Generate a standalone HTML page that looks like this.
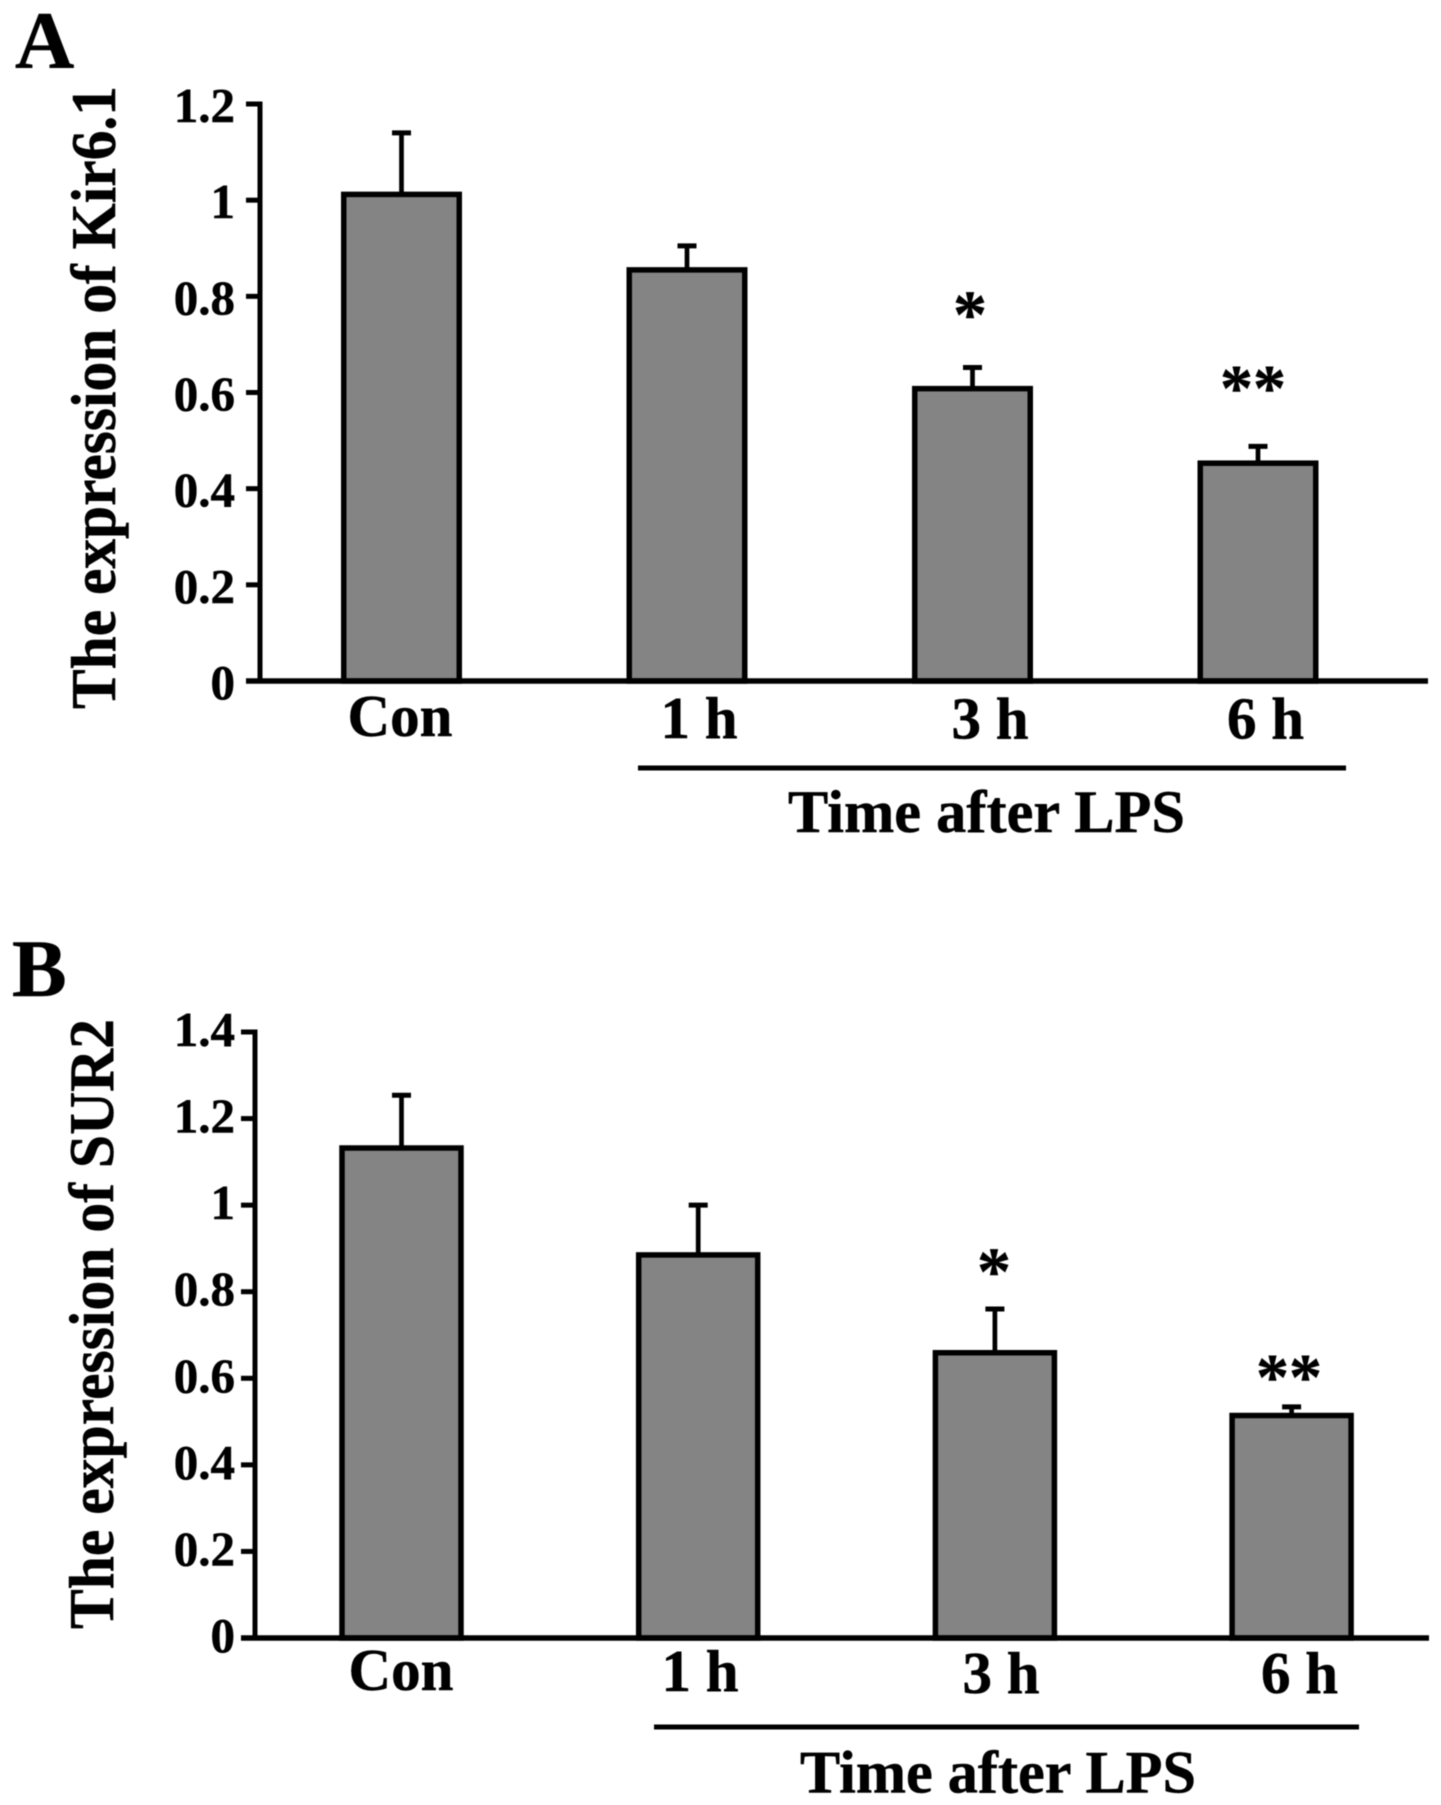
<!DOCTYPE html>
<html lang="en">
<head>
<meta charset="utf-8">
<title>Expression of Kir6.1 and SUR2 after LPS</title>
<style>
  html, body { margin: 0; padding: 0; background: #fff; }
  svg { display: block; filter: blur(0.4px); }
  text { font-family: "Liberation Serif", "DejaVu Serif", serif; font-weight: bold; fill: #000; stroke: #000; stroke-width: 0.5px; }
</style>
</head>
<body>
<svg id="figure" xmlns="http://www.w3.org/2000/svg" width="1441" height="1805" viewBox="0 0 1441 1805">
  <rect x="0" y="0" width="1441" height="1805" fill="#fff"/>

  <g id="panel-a"></g>
  <g id="panel-b"></g>

  <text x="15" y="68" font-size="82">A</text>
  <text x="12" y="996" font-size="82">B</text>

  <text transform="translate(115 709) rotate(-90)" font-size="63" textLength="623" lengthAdjust="spacingAndGlyphs">The expression of Kir6.1</text>
  <text transform="translate(113 1629) rotate(-90)" font-size="63" textLength="610" lengthAdjust="spacingAndGlyphs">The expression of SUR2</text>

  <text x="400" y="736" font-size="59" text-anchor="middle">Con</text>
  <text x="699" y="738" font-size="59" text-anchor="middle">1 h</text>
  <text x="990" y="738.5" font-size="59" text-anchor="middle">3 h</text>
  <text x="1265.5" y="738.5" font-size="59" text-anchor="middle">6 h</text>

  <text x="401" y="1690" font-size="59" text-anchor="middle">Con</text>
  <text x="700" y="1691" font-size="59" text-anchor="middle">1 h</text>
  <text x="1001" y="1693" font-size="59" text-anchor="middle">3 h</text>
  <text x="1299.5" y="1693" font-size="59" text-anchor="middle">6 h</text>

  <rect x="638" y="765.5" width="708" height="5" fill="#000"/>
  <rect x="654" y="1724.5" width="705" height="5" fill="#000"/>

  <text x="788" y="832" font-size="60" textLength="397" lengthAdjust="spacingAndGlyphs">Time after LPS</text>
  <text x="800" y="1792.5" font-size="60" textLength="396" lengthAdjust="spacingAndGlyphs">Time after LPS</text>

  <text x="970" y="337" font-size="68" text-anchor="middle">*</text>
  <text x="1253" y="410" font-size="66" text-anchor="middle">**</text>
  <text x="994" y="1294" font-size="68" text-anchor="middle">*</text>
  <text x="1289" y="1399" font-size="66" text-anchor="middle">**</text>
</svg>

<script>
const categories = ['Con', '1 h', '3 h', '6 h'];

const kirMeans = [1.012, 0.855, 0.608, 0.453];
const kirErrors = [0.128, 0.05, 0.044, 0.035];
const kirTicks = [0, 0.2, 0.4, 0.6, 0.8, 1, 1.2];
const kirTickLabels = ['0', '0.2', '0.4', '0.6', '0.8', '1', '1.2'];

const surMeans = [1.132, 0.885, 0.659, 0.514];
const surErrors = [0.122, 0.115, 0.101, 0.02];
const surTicks = [0, 0.2, 0.4, 0.6, 0.8, 1, 1.2, 1.4];
const surTickLabels = ['0', '0.2', '0.4', '0.6', '0.8', '1', '1.2', '1.4'];

const SVG_NS = 'http://www.w3.org/2000/svg';

function make(parent, tag, attrs) {
  const el = document.createElementNS(SVG_NS, tag);
  for (const key in attrs) el.setAttribute(key, attrs[key]);
  parent.appendChild(el);
  return el;
}

function drawPanel(root, means, errors, ticks, tickLabels, geo) {
  const yScale = function (v) { return geo.baseY - (v / geo.maxValue) * (geo.baseY - geo.topY); };
  const xBand = function (i) { return geo.firstX + geo.stepX * i; };

  means.forEach(function (mean, i) {
    const cx = xBand(i);
    const topY = yScale(mean);
    const capY = yScale(mean + errors[i]);

    const stem = make(root, 'line', { x1: cx, x2: cx, y1: topY, y2: capY, stroke: '#000', 'stroke-width': 4.7 });
    
    

    const cap = make(root, 'line', { x1: cx - 9.5, x2: cx + 9.5, y1: capY, y2: capY, stroke: '#000', 'stroke-width': 5 });
    
    

    const bar = make(root, 'rect', {
      x: cx - geo.barWidth / 2, y: topY, width: geo.barWidth, height: geo.baseY - topY,
      fill: '#848484', stroke: '#000', 'stroke-width': 5.5
    });
    
    
  });

  const yAxis = make(root, 'line', {
    x1: geo.axisX, x2: geo.axisX, y1: yScale(geo.maxValue) - 2.5, y2: geo.baseY, stroke: '#000', 'stroke-width': 5
  });
  
  

  const xAxis = make(root, 'line', {
    x1: geo.axisX - 14, x2: geo.axisEnd, y1: geo.baseY, y2: geo.baseY, stroke: '#000', 'stroke-width': 5.5
  });
  
  

  ticks.forEach(function (t, i) {
    const y = yScale(t);

    const tick = make(root, 'line', { x1: geo.axisX - 14, x2: geo.axisX, y1: y, y2: y, stroke: '#000', 'stroke-width': 5 });
    
    

    const label = make(root, 'text', { x: 235, y: y + geo.labelShift, 'font-size': 49, 'text-anchor': 'end' });
    label.textContent = tickLabels[i];
    
    
  });
}

drawPanel(document.getElementById('panel-a'), kirMeans, kirErrors, kirTicks, kirTickLabels, {
  baseY: 681, topY: 104, maxValue: 1.2, axisX: 260, axisEnd: 1428,
  firstX: 401.5, stepX: 285.5, barWidth: 115.5, labelShift: 18
});

drawPanel(document.getElementById('panel-b'), surMeans, surErrors, surTicks, surTickLabels, {
  baseY: 1638, topY: 1032, maxValue: 1.4, axisX: 255, axisEnd: 1429,
  firstX: 401.5, stepX: 296.7, barWidth: 119, labelShift: 14
});
</script>
</body>
</html>
